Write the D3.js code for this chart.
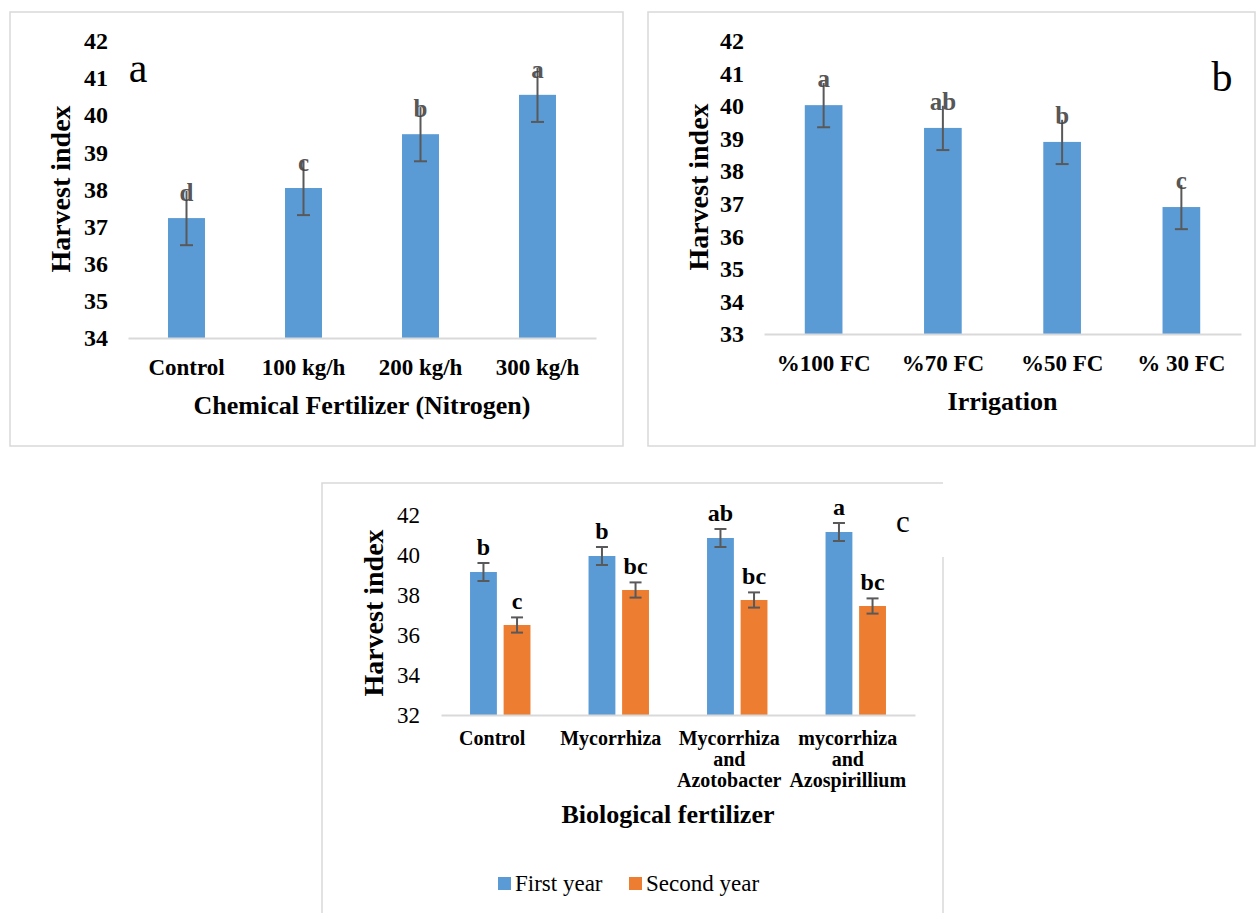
<!DOCTYPE html>
<html>
<head>
<meta charset="utf-8">
<script src="https://cdn.jsdelivr.net/npm/d3@7"></script>
<style>
  body { margin: 0; background: #fff; }
  svg text { font-family: "Liberation Serif", "Times New Roman", serif; }
</style>
</head>
<body>
<svg id="chart" width="1256" height="913"></svg>
<script>
// panel a - chemical fertilizer
const nitrogenCats = ["Control", "100 kg/h", "200 kg/h", "300 kg/h"];
const nitrogenValues = [37.23, 38.04, 39.49, 40.55];
const nitrogenErrors = [0.73, 0.73, 0.73, 0.73];
const nitrogenLetters = ["d", "c", "b", "a"];
const nitrogenTicks = [34, 35, 36, 37, 38, 39, 40, 41, 42];

// panel b - irrigation
const irrigationCats = ["%100 FC", "%70 FC", "%50 FC", "% 30 FC"];
const irrigationValues = [40.03, 39.33, 38.9, 36.9];
const irrigationErrors = [0.68, 0.68, 0.68, 0.68];
const irrigationLetters = ["a", "ab", "b", "c"];
const irrigationTicks = [33, 34, 35, 36, 37, 38, 39, 40, 41, 42];

// panel c - biological fertilizer, two years
const bioCats = ["Control", "Mycorrhiza", "Mycorrhiza and Azotobacter", "mycorrhiza and Azospirillium"];
const bioLabelLines = [["Control"], ["Mycorrhiza"], ["Mycorrhiza", "and", "Azotobacter"], ["mycorrhiza", "and", "Azospirillium"]];
const years = ["First year", "Second year"];
const firstYear = [39.15, 39.95, 40.85, 41.15];
const firstYearErr = [0.45, 0.45, 0.45, 0.45];
const firstLetters = ["b", "b", "ab", "a"];
const secondYear = [36.5, 38.25, 37.75, 37.45];
const secondYearErr = [0.38, 0.38, 0.38, 0.38];
const secondLetters = ["c", "bc", "bc", "bc"];
const bioTicks = [32, 34, 36, 38, 40, 42];

const blue = "#5b9bd5", orange = "#ed7d31";
const gridGrey = "#d9d9d9", errGrey = "#595959";

const svg = d3.select("#chart");

// panel frames
svg.append("rect").attr("x", 10).attr("y", 12).attr("width", 613).attr("height", 434)
    .attr("fill", "none").attr("stroke", gridGrey).attr("stroke-width", 1.5);
svg.append("rect").attr("x", 648).attr("y", 12).attr("width", 607).attr("height", 434)
    .attr("fill", "none").attr("stroke", gridGrey).attr("stroke-width", 1.5);
svg.append("path").attr("d", "M322,920V483H943M943,557V920")
    .attr("fill", "none").attr("stroke", gridGrey).attr("stroke-width", 1.5);

function singlePanel(p) {
    const data = p.cats.map((c, i) => ({ cat: c, value: p.values[i], err: p.errors[i], letter: p.letters[i] }));

    const x = d3.scaleBand().domain(p.cats).range([p.left, p.right])
        .paddingInner(0.684).paddingOuter(0.342);
    const y = d3.scaleLinear().domain([p.ticks[0], p.ticks[p.ticks.length - 1]]).range([p.bottom, p.top]);

    const g = svg.append("g");

    // y axis: labels only
    const yAxis = g.append("g")
        .attr("transform", "translate(" + p.left + ",0)")
        .call(d3.axisLeft(y).tickValues(p.ticks).tickSize(0).tickPadding(20).tickFormat(d3.format("d")));
    yAxis.select(".domain").remove();
    yAxis.selectAll("text")
        .style("font-size", "24px").style("font-weight", "bold").attr("fill", "#000");

    g.selectAll(".bar")
        .data(data)
        .enter().append("rect")
        .attr("class", "bar")
        .attr("x", d => x(d.cat))
        .attr("y", d => y(d.value))
        .attr("width", x.bandwidth())
        .attr("height", d => y(p.ticks[0]) - y(d.value))
        .attr("fill", blue);

    // x axis with grey baseline
    const xAxis = g.append("g")
        .attr("transform", "translate(0," + p.bottom + ")")
        .call(d3.axisBottom(x).tickSize(0).tickSizeOuter(0).tickPadding(21));
    xAxis.select(".domain").attr("stroke", gridGrey).attr("stroke-width", 2);
    xAxis.selectAll("text")
        .style("font-size", "23px").style("font-weight", "bold").attr("fill", "#000");

    // error bars
    const cx = d => x(d.cat) + x.bandwidth() / 2;
    const eb = g.selectAll(".err").data(data).enter().append("g")
        .attr("stroke", errGrey).attr("stroke-width", 2);
    eb.append("line").attr("x1", cx).attr("x2", cx)
        .attr("y1", d => y(d.value + d.err)).attr("y2", d => y(d.value - d.err));
    eb.append("line").attr("x1", d => cx(d) - 6.5).attr("x2", d => cx(d) + 6.5)
        .attr("y1", d => y(d.value - d.err)).attr("y2", d => y(d.value - d.err));

    // significance letters, sitting on top of the error bar
    g.selectAll(".letter").data(data).enter().append("text")
        .attr("x", cx)
        .attr("y", d => y(d.value + d.err) + p.letterShift)
        .attr("text-anchor", "middle")
        .style("font-size", "25px").style("font-weight", "bold")
        .attr("fill", "#404040").attr("fill-opacity", 0.9)
        .text(d => d.letter);

    g.append("text")
        .attr("transform", "translate(" + p.yTitleX + "," + p.yTitleY + ") rotate(-90)")
        .attr("text-anchor", "middle").attr("dy", "0.35em")
        .style("font-size", "28px").style("font-weight", "bold")
        .text("Harvest index");

    g.append("text")
        .attr("x", (p.left + p.right) / 2).attr("y", p.xTitleY)
        .attr("text-anchor", "middle")
        .style("font-size", "26px").style("font-weight", "bold")
        .text(p.xTitle);

    g.append("text")
        .attr("x", p.tagX).attr("y", p.tagY)
        .attr("text-anchor", "middle")
        .style("font-size", "42px")
        .text(p.tag);
}

singlePanel({
    cats: nitrogenCats, values: nitrogenValues, errors: nitrogenErrors, letters: nitrogenLetters, ticks: nitrogenTicks,
    left: 128, right: 596, top: 41, bottom: 338, letterShift: 10,
    yTitleX: 60, yTitleY: 189, xTitle: "Chemical Fertilizer (Nitrogen)", xTitleY: 414,
    tag: "a", tagX: 138, tagY: 82
});

singlePanel({
    cats: irrigationCats, values: irrigationValues, errors: irrigationErrors, letters: irrigationLetters, ticks: irrigationTicks,
    left: 764, right: 1241, top: 41, bottom: 334, letterShift: 4,
    yTitleX: 698, yTitleY: 187, xTitle: "Irrigation", xTitleY: 410,
    tag: "b", tagX: 1222, tagY: 91
});

// Panel c: grouped bars
var bio = bioCats.map((c, i) => ({
    cat: c,
    lines: bioLabelLines[i],
    items: [
        { year: years[0], value: firstYear[i], err: firstYearErr[i], letter: firstLetters[i] },
        { year: years[1], value: secondYear[i], err: secondYearErr[i], letter: secondLetters[i] }
    ]
}));

var cLeft = 441, cRight = 915, cTop = 515, cBottom = 715;
var x0 = d3.scaleBand().domain(bioCats).range([cLeft, cRight]).paddingInner(0.49).paddingOuter(0.245);
var x1 = d3.scaleBand().domain(years).range([0, x0.bandwidth()]).paddingInner(0.2);
var yC = d3.scaleLinear().domain([32, 42]).range([cBottom, cTop]);
var color = d3.scaleOrdinal().domain(years).range([blue, orange]);

var gc = svg.append("g");

var yAxisC = gc.append("g")
    .attr("transform", "translate(" + cLeft + ",0)")
    .call(d3.axisLeft(yC).tickValues(bioTicks).tickSize(0).tickPadding(21));
yAxisC.select(".domain").remove();
yAxisC.selectAll("text").style("font-size", "23px").attr("fill", "#000");

var groups = gc.selectAll(".grp")
    .data(bio)
    .enter().append("g")
    .attr("class", "grp")
    .attr("transform", d => "translate(" + x0(d.cat) + ",0)");

groups.selectAll("rect")
    .data(d => d.items)
    .enter().append("rect")
    .attr("x", d => x1(d.year))
    .attr("y", d => yC(d.value))
    .attr("width", x1.bandwidth())
    .attr("height", d => yC(32) - yC(d.value))
    .attr("fill", d => color(d.year));

var ebC = groups.selectAll(".err")
    .data(d => d.items)
    .enter().append("g")
    .attr("stroke", errGrey).attr("stroke-width", 2)
    .attr("transform", d => "translate(" + (x1(d.year) + x1.bandwidth() / 2) + ",0)");
ebC.append("line").attr("x1", 0).attr("x2", 0)
    .attr("y1", d => yC(d.value + d.err)).attr("y2", d => yC(d.value - d.err));
ebC.append("line").attr("x1", -6).attr("x2", 6)
    .attr("y1", d => yC(d.value + d.err)).attr("y2", d => yC(d.value + d.err));
ebC.append("line").attr("x1", -6).attr("x2", 6)
    .attr("y1", d => yC(d.value - d.err)).attr("y2", d => yC(d.value - d.err));

groups.selectAll(".letter")
    .data(d => d.items)
    .enter().append("text")
    .attr("x", d => x1(d.year) + x1.bandwidth() / 2)
    .attr("y", d => yC(d.value + d.err) - 8)
    .attr("text-anchor", "middle")
    .style("font-size", "24px").style("font-weight", "bold")
    .text(d => d.letter);

var xAxisC = gc.append("g")
    .attr("transform", "translate(0," + cBottom + ")")
    .call(d3.axisBottom(x0).tickSize(0).tickSizeOuter(0).tickPadding(16));
xAxisC.select(".domain").attr("stroke", gridGrey).attr("stroke-width", 2);
xAxisC.selectAll(".tick").attr("transform", d => "translate(" + (x0(d) + x0.bandwidth() / 2 - 8) + ",0)");
xAxisC.selectAll("text")
    .style("font-size", "20px").style("font-weight", "bold").attr("fill", "#000")
    .each(function(d, i) {
        var t = d3.select(this);
        t.text(null);
        bioLabelLines[i].forEach((line, j) => {
            t.append("tspan").attr("x", 0).attr("dy", j === 0 ? "0.71em" : "1.05em").text(line);
        });
    });

gc.append("text")
    .attr("transform", "translate(373,613) rotate(-90)")
    .attr("text-anchor", "middle").attr("dy", "0.35em")
    .style("font-size", "28px").style("font-weight", "bold")
    .text("Harvest index");

gc.append("text")
    .attr("x", (cLeft + cRight) / 2 - 10).attr("y", 823)
    .attr("text-anchor", "middle")
    .style("font-size", "26px").style("font-weight", "bold")
    .text("Biological fertilizer");

gc.append("text")
    .attr("x", 903).attr("y", 532)
    .attr("text-anchor", "middle")
    .style("font-size", "31px")
    .text("c");

// legend
var legendX = d3.scaleOrdinal().domain(years).range([498, 629]);
var legend = gc.selectAll(".legend")
    .data(years)
    .enter().append("g")
    .attr("transform", d => "translate(" + legendX(d) + ",877)");
legend.append("rect").attr("width", 13).attr("height", 13).attr("fill", d => color(d));
legend.append("text").attr("x", 17).attr("y", 14)
    .style("font-size", "23px")
    .text(d => d);
</script>
</body>
</html>
